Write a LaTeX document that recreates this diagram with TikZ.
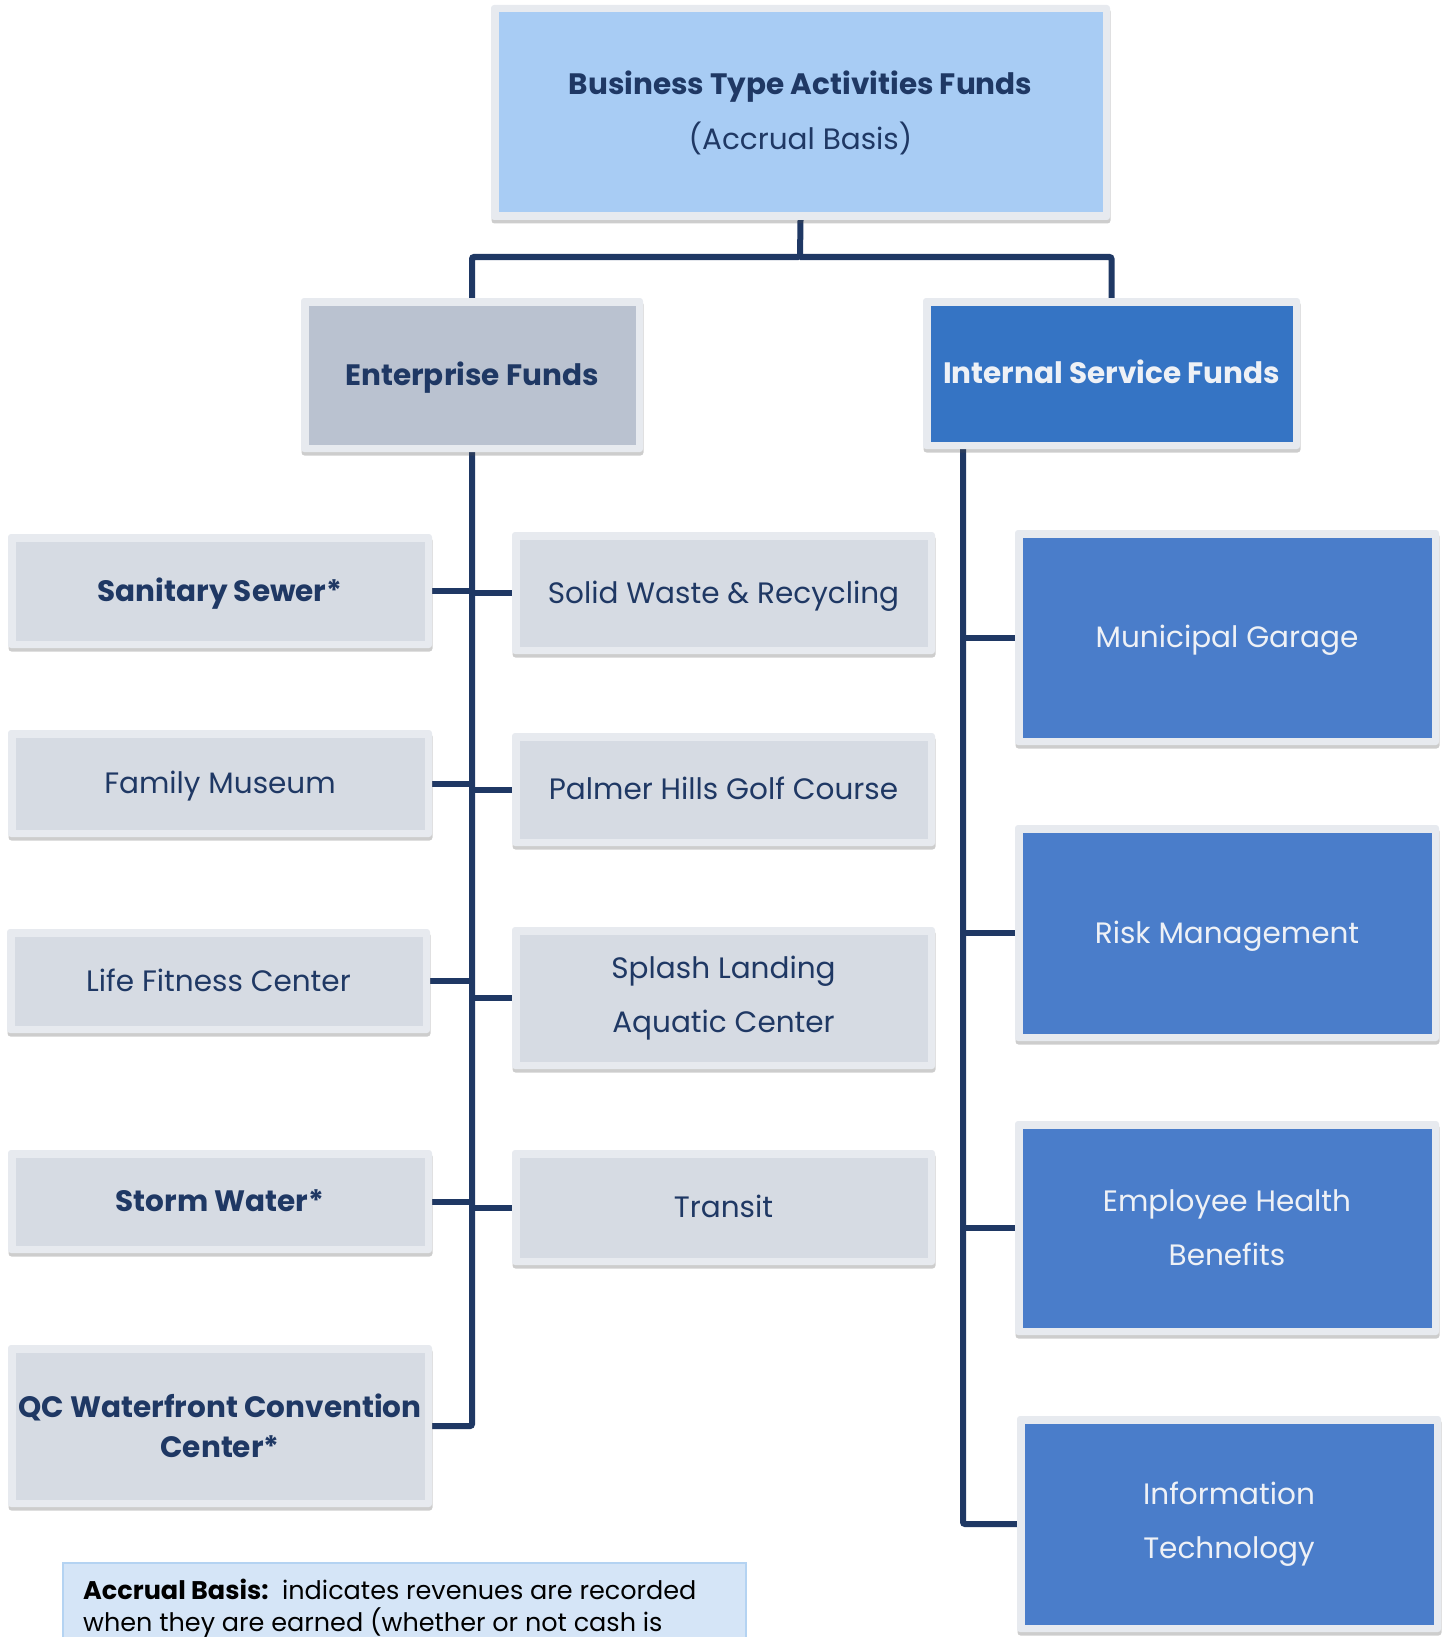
\documentclass[tikz,border=0pt]{standalone}
\usepackage{fontspec}
\setmainfont{Poppins}
\newfontfamily\notefont{Poppins}
\usetikzlibrary{shadows,backgrounds}
\definecolor{navy}{HTML}{1F3864}
\definecolor{bd}{HTML}{E7EAEF}
\definecolor{topc}{HTML}{A8CCF4}
\definecolor{entc}{HTML}{BAC2D0}
\definecolor{isfc}{HTML}{3574C4}
\definecolor{greyc}{HTML}{D6DBE3}
\definecolor{bluec}{HTML}{4A7DCA}
\definecolor{wtext}{HTML}{EEF1F6}
\definecolor{notefill}{HTML}{D5E5F7}
\definecolor{noteborder}{HTML}{B4D3F2}
\begin{document}
\begin{tikzpicture}[x=1pt,y=-1pt,
  box/.style={rounded corners=3pt, fill=bd, inner sep=0pt, align=center,
    drop shadow={shadow xshift=0.5pt, shadow yshift=-3.5pt, opacity=0.28, fill=black!70}},
  fillin/.style={path picture={\fill[#1, sharp corners] ([shift={(7.5pt,-7.5pt)}]path picture bounding box.north west) rectangle ([shift={(-7.5pt,7.5pt)}]path picture bounding box.south east);}},
  greybox/.style={box, fillin=greyc, text=navy},
  bluebox/.style={box, fillin=bluec, text=wtext},
  fsz/.style={font=\fontsize{29.5}{54}\selectfont},
  fbz/.style={font=\fontsize{29.5}{40}\selectfont\bfseries},
  oneline/.style={text height=20.5pt, text depth=0pt},
  conn/.style={draw=navy, line width=6pt, rounded corners=2pt}
]
\useasboundingbox (0,0) rectangle (1445,1637);
\clip (0,0) rectangle (1445,1637);

% top
\node[box, fillin=topc, text=navy, minimum width=619, minimum height=215, font=\fontsize{29.5}{55}\selectfont] (top) at (800.5,112.5)
  {\textbf{Business Type Activities Funds}\\(Accrual Basis)};

\node[box, fillin=entc, text=navy, fbz, oneline, minimum width=342, minimum height=154] (ent) at (472,375) {Enterprise Funds};
\node[box, fillin=isfc, text=wtext, fbz, oneline, minimum width=377, minimum height=151] (isf) at (1111.5,373.5) {Internal Service Funds};

% left column
\node[greybox, fbz, oneline, minimum width=424, minimum height=114] (san) at (220,591) {Sanitary Sewer*};
\node[greybox, fsz, oneline, minimum width=424, minimum height=107] (fam) at (220,783.5) {Family Museum};
\node[greybox, fsz, oneline, minimum width=423, minimum height=104] (life) at (218.5,981) {Life Fitness Center};
\node[greybox, fbz, oneline, minimum width=424, minimum height=103] (storm) at (220,1201.5) {Storm Water*};
\node[greybox, fbz, minimum width=424, minimum height=162] (qc) at (220,1426) {QC Waterfront Convention\\Center*};

% middle column
\node[greybox, fsz, oneline, minimum width=423, minimum height=122] (solid) at (723.5,593) {Solid Waste \& Recycling};
\node[greybox, fsz, oneline, minimum width=423, minimum height=113] (palmer) at (723.5,789.5) {Palmer Hills Golf Course};
\node[greybox, fsz, minimum width=423, minimum height=142] (splash) at (723.5,998) {\raisebox{-2pt}{Splash Landing}\\\raisebox{-2pt}{Aquatic Center}};
\node[greybox, fsz, oneline, minimum width=423, minimum height=115] (transit) at (723.5,1207.5) {Transit};

% right column
\node[bluebox, fsz, oneline, minimum width=424, minimum height=215] (muni) at (1227,637.5) {Municipal Garage};
\node[bluebox, fsz, oneline, minimum width=424, minimum height=216] (risk) at (1227,933) {Risk Management};
\node[bluebox, fsz, minimum width=424, minimum height=214] (emp) at (1227,1228) {Employee Health\\Benefits};
\node[bluebox, fsz, minimum width=424, minimum height=216] (it) at (1229,1524) {Information\\Technology};

% footnote
\node[anchor=north west, fill=notefill, draw=noteborder, line width=2pt, minimum width=683, minimum height=120, inner sep=0pt] (note) at (62,1562) {};
\node[anchor=base west, inner sep=0pt, font=\notefont\fontsize{25.5}{28}\selectfont, text=black] (note1) at (83,1599) {\textbf{Accrual Basis:}\ \ indicates revenues are recorded};
\node[anchor=base west, inner sep=0pt, font=\notefont\fontsize{25.5}{28}\selectfont, text=black] (note2) at (83,1631) {when they are earned (whether or not cash is};

\coordinate (hub) at (800,257);
\coordinate (rt) at (963,445);
\begin{scope}[on background layer]
  \draw[conn] (top.south) -- (hub) -| (ent.north);
  \draw[conn] (hub) -| (isf.north);
  \draw[conn] (ent.south) |- (qc.east);
  \foreach \n in {san,fam,life,storm}{\draw[conn] (\n.east) -- (\n.east -| ent.south);}
  \foreach \n in {solid,palmer,splash,transit}{\draw[conn] (\n.west) -- (\n.west -| ent.south);}
  \draw[conn] (rt) |- (it.west);
  \foreach \n in {muni,risk,emp}{\draw[conn] (\n.west) -- (\n.west -| rt);}
\end{scope}
\end{tikzpicture}
\end{document}
